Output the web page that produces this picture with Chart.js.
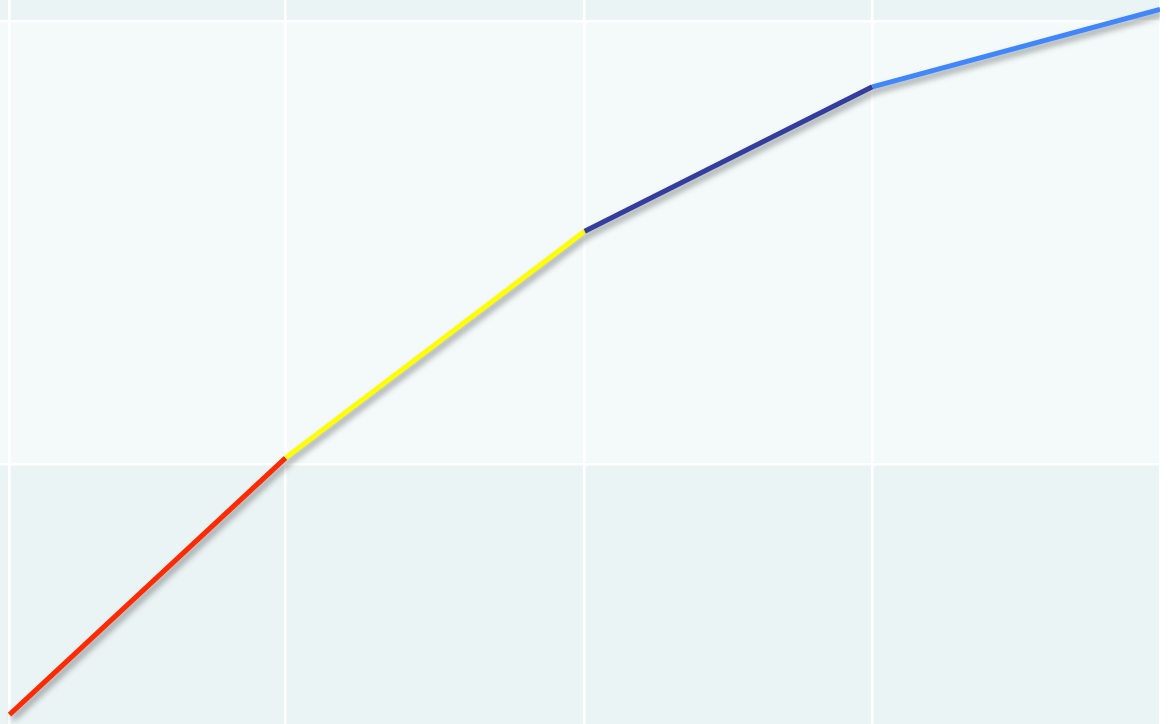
<!DOCTYPE html>
<html>
<head>
<meta charset="utf-8">
<script src="https://cdn.jsdelivr.net/npm/chart.js@4.4.1/dist/chart.umd.min.js"></script>
<style>
  html, body { margin: 0; padding: 0; background: #ffffff; }
  #wrap { width: 1172px; height: 724px; }
</style>
</head>
<body>
<div id="wrap"><canvas id="lineChart"></canvas></div>
<script>
// values
const xValues = [0, 0.96, 2, 3, 4];
const yValues = [43.5, 101.5, 152.7, 185.3, 202.8];
const segmentColors = ['#ff2a00', '#ffff00', '#343c9c', '#3f86ff'];
const xTicks = [0, 0.96, 2, 3, 4];
const yTicks = [100, 200];

const bandPlugin = {
  id: 'bands',
  beforeDraw(chart) {
    const { ctx, chartArea: a, scales } = chart;
    const edges = [a.bottom, ...yTicks.map(v => scales.y.getPixelForValue(v)), a.top];
    ctx.save();
    for (let i = 0; i < edges.length - 1; i++) {
      ctx.fillStyle = i % 2 === 0 ? '#ebf4f5' : '#f4fafa';
      ctx.fillRect(a.left, edges[i + 1], a.right - a.left, edges[i] - edges[i + 1]);
    }
    ctx.restore();
  }
};

const shadowPlugin = {
  id: 'lineShadow',
  beforeDatasetsDraw(chart) {
    const ctx = chart.ctx;
    ctx.save();
    ctx.shadowColor = 'rgba(0,0,0,0.4)';
    ctx.shadowBlur = 6;
    ctx.shadowOffsetX = 3;
    ctx.shadowOffsetY = 4;
  },
  afterDatasetsDraw(chart) {
    chart.ctx.restore();
  }
};

new Chart(document.getElementById('lineChart'), {
  type: 'line',
  data: {
    datasets: [{
      data: xValues.map((x, i) => ({ x, y: yValues[i] })),
      borderWidth: 5,
      borderCapStyle: 'butt',
      pointRadius: 0,
      tension: 0,
      segment: {
        borderColor: c => segmentColors[c.p0DataIndex]
      }
    }]
  },
  options: {
    responsive: true,
    maintainAspectRatio: false,
    animation: false,
    layout: { padding: { left: 0, right: 12, top: 0, bottom: 0 } },
    plugins: { legend: { display: false }, tooltip: { enabled: false } },
    scales: {
      x: {
        type: 'linear',
        min: -0.033,
        max: 4,
        afterBuildTicks: s => { s.ticks = xTicks.map(v => ({ value: v })); },
        ticks: { display: false },
        border: { display: false },
        grid: { color: '#ffffff', lineWidth: 2.5, drawTicks: false }
      },
      y: {
        type: 'linear',
        min: 41.4,
        max: 204.9,
        afterBuildTicks: s => { s.ticks = yTicks.map(v => ({ value: v })); },
        ticks: { display: false },
        border: { display: false },
        grid: { color: '#ffffff', lineWidth: 2.5, drawTicks: false }
      }
    }
  },
  plugins: [bandPlugin, shadowPlugin]
});
</script>
</body>
</html>
